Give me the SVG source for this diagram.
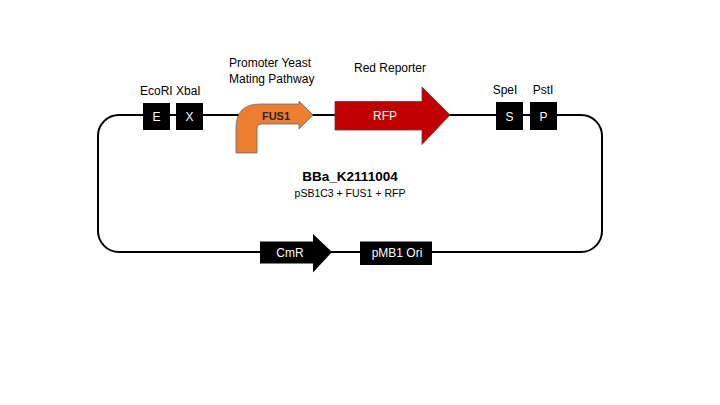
<svg xmlns="http://www.w3.org/2000/svg" width="720" height="405" viewBox="0 0 720 405">
<style>
.lbl{font-family:"Liberation Sans",Arial,sans-serif;font-size:12px;fill:#000}
.wt{font-family:"Liberation Sans",Arial,sans-serif;font-size:12px;fill:#fff;text-anchor:middle}
.site{fill:#000}
</style>
<rect width="720" height="405" fill="#fff"/>
<g id="connectors">
<rect x="98" y="115" width="504" height="137" rx="21" ry="21" fill="none" stroke="#000" stroke-width="2"/>
</g>
<g id="title">
<text x="350" y="181" text-anchor="middle" font-family="Liberation Sans,Arial,sans-serif" font-size="13.5" font-weight="bold">BBa_K2111004</text>
<text x="350" y="196.5" text-anchor="middle" font-family="Liberation Sans,Arial,sans-serif" font-size="10.5" fill="#000">pSB1C3 + FUS1 + RFP</text>
</g>
<g id="EcoRI">
<rect class="site" x="143" y="103" width="27" height="27"/>
<text class="wt" x="156.5" y="121">E</text>
</g>
<g id="XbaI">
<rect class="site" x="176" y="103" width="27" height="27"/>
<text class="wt" x="189.5" y="121">X</text>
</g>
<text class="lbl" x="140" y="95" font-size="12.5">EcoRI XbaI</text>
<g id="FUS1">
<path d="M236,153 L236,128 Q236,104 260,104 L299,104 L299,101 L313,115 L299,129 L299,124 L262,124 Q257,124 257,129 L257,153 Z" fill="#ED7D31" stroke="#5b6b7b" stroke-width="0.8"/>
<text x="276" y="119.5" text-anchor="middle" font-family="Liberation Sans,Arial,sans-serif" font-size="11" font-weight="bold" fill="#262626">FUS1</text>
<text class="lbl" x="229" y="67">Promoter Yeast</text>
<text class="lbl" x="229" y="83">Mating Pathway</text>
</g>
<g id="RFP">
<path d="M335,101.5 L422,101.5 L422,87 L450,115 L422,144.5 L422,130 L335,130 Z" fill="#C00000" stroke="#7a3030" stroke-width="0.8"/>
<text class="wt" x="385" y="119.5" font-size="11">RFP</text>
<text class="lbl" x="390" y="72" text-anchor="middle">Red Reporter</text>
</g>
<g id="SpeI">
<rect class="site" x="496" y="102" width="27" height="28"/>
<text class="wt" x="509.5" y="120.5">S</text>
<text class="lbl" x="505" y="94" text-anchor="middle">SpeI</text>
</g>
<g id="PstI">
<rect class="site" x="530" y="102" width="27" height="28"/>
<text class="wt" x="543.5" y="120.5">P</text>
<text class="lbl" x="543" y="94" text-anchor="middle">PstI</text>
</g>
<g id="CmR">
<path d="M260,241.5 L313,241.5 L313,234 L332,252 L313,272.5 L313,263.5 L260,263.5 Z" fill="#000"/>
<text class="wt" x="290" y="256.5">CmR</text>
</g>
<g id="pMB1">
<rect class="site" x="360" y="241.5" width="72" height="23.5"/>
<text class="wt" x="397" y="257">pMB1 Ori</text>
</g>
</svg>
